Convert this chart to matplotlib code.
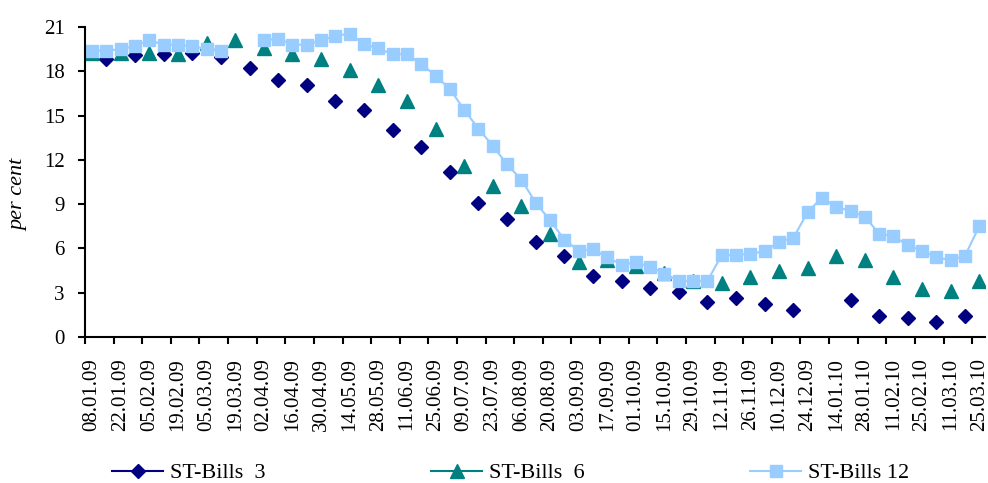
import numpy as np
import matplotlib
matplotlib.use("Agg")
import matplotlib.pyplot as plt

nan = np.nan

# every second category is labelled on the axis
labels = ["08.01.09", "22.01.09", "05.02.09", "19.02.09", "05.03.09", "19.03.09",
          "02.04.09", "16.04.09", "30.04.09", "14.05.09", "28.05.09", "11.06.09",
          "25.06.09", "09.07.09", "23.07.09", "06.08.09", "20.08.09", "03.09.09",
          "17.09.09", "01.10.09", "15.10.09", "29.10.09", "12.11.09", "26.11.09",
          "10.12.09", "24.12.09", "14.01.10", "28.01.10", "11.02.10", "25.02.10",
          "11.03.10", "25.03.10"]

bills3 = [nan, 18.85, nan, 19.1, nan, 19.2, nan, 19.25, nan, 18.95,
          nan, 18.2, nan, 17.4, nan, 17.05, nan, 16.0, nan, 15.35,
          nan, 14.0, nan, 12.85, nan, 11.15, nan, 9.05, nan, 8.0,
          nan, 6.45, nan, 5.5, nan, 4.1, nan, 3.8, nan, 3.3,
          nan, 3.05, nan, 2.35, nan, 2.65, nan, 2.25, nan, 1.85,
          nan, nan, nan, 2.5, nan, 1.45, nan, 1.3, nan, 1.05,
          nan, 1.45, nan]

bills6 = [19.25, nan, 19.25, nan, 19.25, nan, 19.2, nan, 19.9, nan,
          20.15, nan, 19.6, nan, 19.15, nan, 18.85, nan, 18.1, nan,
          17.05, nan, 16.0, nan, 14.1, nan, 11.6, nan, 10.2, nan,
          8.9, nan, 6.95, nan, 5.1, nan, 5.2, nan, 4.8, nan,
          4.35, nan, 3.8, nan, 3.65, nan, 4.05, nan, 4.45, nan,
          4.7, nan, 5.5, nan, 5.25, nan, 4.05, nan, 3.25, nan,
          3.15, nan, 3.8]

bills12 = [19.4, 19.4, 19.5, 19.7, 20.1, 19.8, 19.8, 19.7, 19.5, 19.4,
           nan, nan, 20.1, 20.2, 19.8, 19.8, 20.1, 20.4, 20.55, 19.85,
           19.55, 19.15, 19.15, 18.5, 17.7, 16.8, 15.4, 14.1, 12.95, 11.7,
           10.65, 9.1, 7.9, 6.6, 5.85, 5.95, 5.4, 4.9, 5.05, 4.75,
           4.3, 3.8, 3.8, 3.8, 5.55, 5.55, 5.65, 5.8, 6.45, 6.7,
           8.45, 9.45, 8.8, 8.55, 8.15, 7.0, 6.85, 6.2, 5.85, 5.4,
           5.2, 5.5, 7.5]

x = np.arange(len(bills12))

plt.rcParams["font.family"] = ["Liberation Serif", "DejaVu Serif"]

fig = plt.figure(figsize=(9.88, 4.83), dpi=100)
ax = fig.add_axes([85 / 988, 146 / 483, 900 / 988, 310 / 483])

l3, = ax.plot(x, bills3, color="#000080", marker="D", ms=7.2, lw=1.5,
              label="ST-Bills  3")
l6, = ax.plot(x, bills6, color="#008080", marker="^", ms=10.5, lw=1.5,
              label="ST-Bills  6")
l12, = ax.plot(x, bills12, color="#99CCFF", marker="s", ms=8.5, lw=1.5,
               label="ST-Bills 12")

ax.set_xlim(-0.5, len(x) - 0.6)
ax.set_ylim(0, 21)
ax.set_yticks(range(0, 22, 3))

# tick marks sit between categories, labels sit on the categories
ax.set_xticks(np.arange(-0.5, len(x) - 0.6, 2))
ax.set_xticklabels([])
ax.set_xticks(np.arange(0, len(x), 2), minor=True)
ax.set_xticklabels(labels, minor=True, rotation=90, fontsize=15)
ax.tick_params(axis="x", which="major", direction="out", length=5, width=1.5)
ax.tick_params(axis="x", which="minor", length=0, pad=15)
ax.tick_params(axis="y", direction="out", length=5, width=1.5, pad=9.5,
               labelsize=15)

for side in ["top", "right"]:
    ax.spines[side].set_visible(False)
for side in ["left", "bottom"]:
    ax.spines[side].set_linewidth(1.5)

fig.text(19 / 988, 1 - 195 / 483, "per cent", rotation=90, style="italic",
         fontsize=16, ha="center", va="center")

for line, xpos in [(l3, 112), (l6, 431), (l12, 750)]:
    fig.legend(handles=[line], loc="center left",
               bbox_to_anchor=(xpos / 988, 10 / 483), frameon=False,
               fontsize=16, borderpad=0, borderaxespad=0, handlelength=2.3,
               handletextpad=0.3)

fig.savefig("out.png", dpi=100)
